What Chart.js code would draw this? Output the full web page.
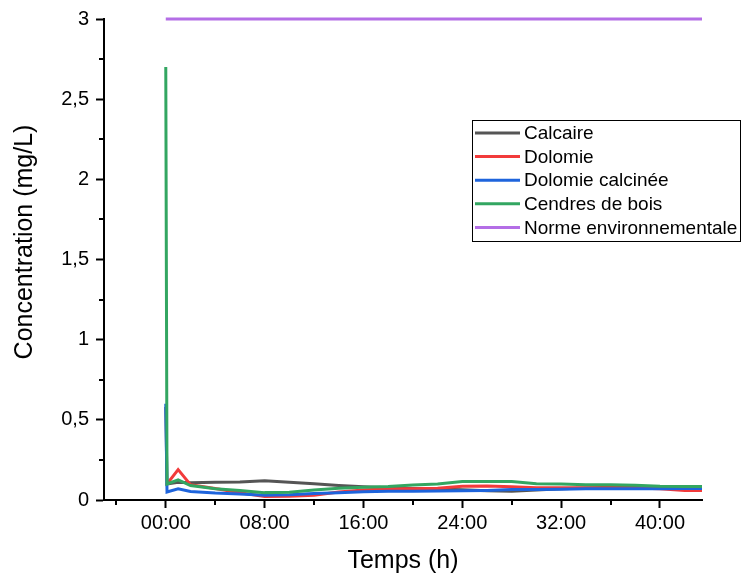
<!DOCTYPE html>
<html>
<head>
<meta charset="utf-8">
<script src="https://cdn.jsdelivr.net/npm/chart.js@4.4.1/dist/chart.umd.min.js"></script>
<style>
  html, body { margin: 0; padding: 0; background: #fff; }
  #wrap { width: 741px; height: 582px; }
</style>
</head>
<body>
<div id="wrap"><canvas id="c" width="741" height="582"></canvas></div>
<script>
// Sampling times (hours)
const hours = [0, 0.1, 1, 2, 4, 6, 8, 10, 12, 14, 16, 18, 20, 22, 24, 26, 28, 30, 32, 34, 36, 38, 40, 42, 43.4];

// Concentrations (mg/L) for each treatment
const calcaire = [0.58, 0.10, 0.11, 0.107, 0.11, 0.113, 0.12, 0.111, 0.101, 0.09, 0.082, 0.076, 0.072, 0.068, 0.064, 0.057, 0.055, 0.062, 0.07, 0.075, 0.08, 0.08, 0.078, 0.076, 0.075];
const dolomie = [0.1, 0.1, 0.19, 0.096, 0.072, 0.045, 0.022, 0.024, 0.03, 0.05, 0.062, 0.07, 0.07, 0.074, 0.085, 0.087, 0.083, 0.077, 0.077, 0.076, 0.076, 0.075, 0.07, 0.06, 0.06];
const dolomieCalcinee = [0.6, 0.05, 0.07, 0.053, 0.043, 0.038, 0.03, 0.032, 0.04, 0.045, 0.052, 0.055, 0.055, 0.056, 0.057, 0.06, 0.065, 0.066, 0.067, 0.07, 0.07, 0.07, 0.07, 0.071, 0.071];
const cendresDeBois = [2.7, 0.1, 0.126, 0.09, 0.07, 0.059, 0.046, 0.049, 0.063, 0.073, 0.08, 0.084, 0.094, 0.1, 0.115, 0.116, 0.115, 0.101, 0.1, 0.095, 0.095, 0.092, 0.085, 0.084, 0.084];

// Environmental limit
const normeHours = [0, 43.4];
const normeValues = [3, 3];

// Series names
const seriesNames = ['Calcaire', 'Dolomie', 'Dolomie calcinée', 'Cendres de bois', 'Norme environnementale'];

// Axis ticks
const xMajorTicks = [0, 8, 16, 24, 32, 40];
const xMinorTicks = [-4, 4, 12, 20, 28, 36];
const yMinorTicks = [0.25, 0.75, 1.25, 1.75, 2.25, 2.75];

const FONT = "'Liberation Sans', Arial, sans-serif";
const colors = ['#555555', '#f23b3b', '#1e64dc', '#33a661', '#b46ee6'];

function pts(xs, ys) { return xs.map((x, i) => ({ x: x, y: ys[i] })); }

const seriesData = [
  pts(hours, calcaire),
  pts(hours, dolomie),
  pts(hours, dolomieCalcinee),
  pts(hours, cendresDeBois),
  pts(normeHours, normeValues)
];

const datasets = seriesData.map((d, i) => ({
  label: seriesNames[i],
  data: d,
  borderColor: colors[i],
  backgroundColor: colors[i],
  borderWidth: 3,
  pointRadius: 0,
  tension: 0,
  fill: false,
  clip: false,
  order: 5 - i
}));

function hhmm(v) {
  const h = Math.round(v);
  return String(h).padStart(2, '0') + ':00';
}

// Minor ticks, rotated y title and boxed legend
const decorations = {
  id: 'decorations',
  afterDraw(chart) {
    const ctx = chart.ctx;
    const xs = chart.scales.x, ys = chart.scales.y;
    const area = chart.chartArea;
    ctx.save();
    ctx.strokeStyle = '#000';
    ctx.lineWidth = 2;
    ctx.beginPath();
    xMinorTicks.forEach(v => {
      const px = Math.round(xs.getPixelForValue(v));
      ctx.moveTo(px, area.bottom);
      ctx.lineTo(px, area.bottom + 5);
    });
    yMinorTicks.forEach(v => {
      const py = Math.round(ys.getPixelForValue(v));
      ctx.moveTo(area.left, py);
      ctx.lineTo(area.left - 5, py);
    });
    ctx.stroke();

    // y-axis title
    ctx.fillStyle = '#000';
    ctx.font = '25px ' + FONT;
    ctx.textAlign = 'center';
    ctx.textBaseline = 'middle';
    ctx.translate(25, 242);
    ctx.rotate(-Math.PI / 2);
    ctx.fillText('Concentration (mg/L)', 0, 0);
    ctx.restore();

    // legend
    ctx.save();
    const bx = 472.5, by = 120.5, bw = 268, bh = 121;
    ctx.fillStyle = '#fff';
    ctx.fillRect(bx, by, bw, bh);
    ctx.strokeStyle = '#000';
    ctx.lineWidth = 1;
    ctx.strokeRect(bx, by, bw, bh);
    ctx.font = '19px ' + FONT;
    ctx.textAlign = 'left';
    ctx.textBaseline = 'middle';
    chart.data.datasets.forEach((ds, i) => {
      const cy = 133 + i * 23.6;
      ctx.strokeStyle = ds.borderColor;
      ctx.lineWidth = 3;
      ctx.beginPath();
      ctx.moveTo(475, cy);
      ctx.lineTo(520, cy);
      ctx.stroke();
      ctx.fillStyle = '#000';
      ctx.fillText(ds.label, 524, cy + 1);
    });
    ctx.restore();
  }
};

new Chart(document.getElementById('c'), {
  type: 'line',
  data: { datasets: datasets },
  options: {
    responsive: false,
    animation: false,
    devicePixelRatio: 1,
    layout: { padding: { left: 0, right: 39, top: 17, bottom: 0 } },
    plugins: { legend: { display: false }, tooltip: { enabled: false } },
    scales: {
      x: {
        type: 'linear',
        min: -5,
        max: 43.4,
        afterBuildTicks: s => { s.ticks = xMajorTicks.map(v => ({ value: v })); },
        afterFit: s => { s.height = 82; },
        grid: { display: true, drawOnChartArea: false, drawTicks: true, tickLength: 8, tickWidth: 2, tickColor: '#000' },
        border: { display: true, color: '#000', width: 2 },
        ticks: { color: '#000', font: { family: FONT, size: 20 }, padding: 3, maxRotation: 0, autoSkip: false, callback: v => hhmm(v) },
        title: { display: true, text: 'Temps (h)', color: '#000', font: { family: FONT, size: 25 }, padding: { top: 0, bottom: 6 } }
      },
      y: {
        min: 0,
        max: 3,
        afterFit: s => { s.width = 104; },
        grid: { display: true, drawOnChartArea: false, drawTicks: true, tickLength: 8, tickWidth: 2, tickColor: '#000' },
        border: { display: true, color: '#000', width: 2 },
        ticks: { stepSize: 0.5, color: '#000', font: { family: FONT, size: 20 }, padding: 7, callback: v => String(v).replace('.', ',') },
        title: { display: false }
      }
    }
  },
  plugins: [decorations]
});
</script>
</body>
</html>
